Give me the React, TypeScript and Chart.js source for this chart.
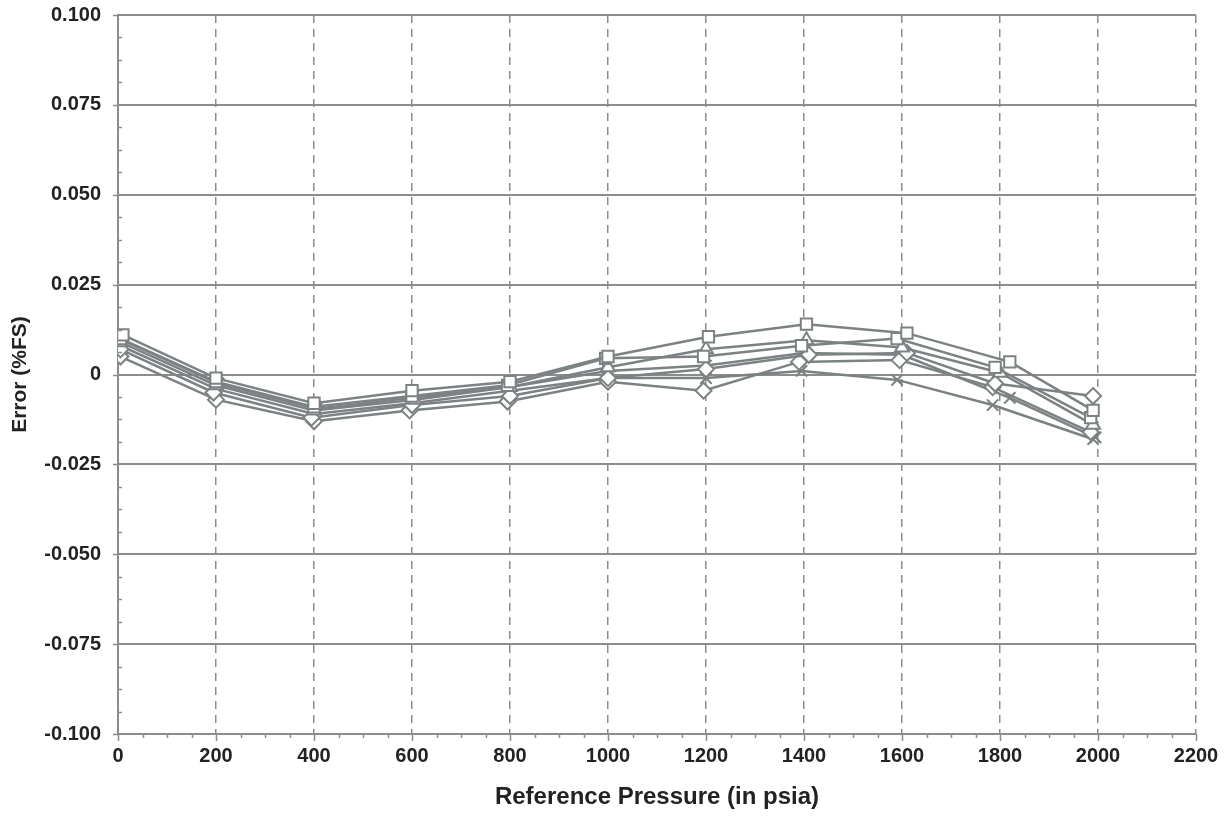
import React, { useEffect, useRef } from "react";
import { Chart, registerables } from "chart.js";

Chart.register(...registerables);

const xTicks = [0, 200, 400, 600, 800, 1000, 1200, 1400, 1600, 1800, 2000, 2200];
const yTickValues = [-0.1, -0.075, -0.05, -0.025, 0, 0.025, 0.05, 0.075, 0.1];

const s1X = [10, 200, 400, 600, 800, 1000, 1205, 1405, 1610, 1820, 1990];
const s1Y = [0.011, -0.001, -0.008, -0.0045, -0.002, 0.005, 0.0105, 0.014, 0.0115, 0.0035, -0.01];
const s2X = [5, 200, 400, 600, 795, 995, 1195, 1395, 1590, 1790, 1985];
const s2Y = [0.01, -0.002, -0.009, -0.006, -0.003, 0.0045, 0.005, 0.008, 0.01, 0.002, -0.012];
const s3X = [5, 200, 400, 605, 800, 1000, 1200, 1405, 1600, 1800, 1990];
const s3Y = [0.009, -0.003, -0.01, -0.007, -0.0035, 0.002, 0.007, 0.0095, 0.0075, 0.0005, -0.014];
const s4X = [5, 195, 395, 600, 800, 1000, 1200, 1410, 1610, 1790, 1990];
const s4Y = [0.007, -0.005, -0.012, -0.0085, -0.006, -0.001, 0.0015, 0.0055, 0.006, -0.0025, -0.006];
const s5X = [5, 200, 400, 595, 795, 1000, 1195, 1390, 1595, 1785, 1985];
const s5Y = [0.005, -0.007, -0.013, -0.01, -0.0075, -0.002, -0.0045, 0.0035, 0.004, -0.0035, -0.016];
const s6X = [5, 200, 400, 600, 800, 1000, 1200, 1395, 1590, 1785, 1990];
const s6Y = [0.008, -0.004, -0.011, -0.008, -0.0045, -0.001, -0.001, 0.001, -0.0015, -0.0085, -0.018];
const s7X = [10, 205, 405, 600, 800, 1000, 1200, 1400, 1600, 1820, 1995];
const s7Y = [0.0095, -0.0025, -0.0095, -0.0065, -0.0035, 0.001, 0.0025, 0.006, 0.0055, -0.0065, -0.0175];

const seriesDefs = [
  { xs: s1X, ys: s1Y, style: "rect" },
  { xs: s2X, ys: s2Y, style: "rect" },
  { xs: s3X, ys: s3Y, style: "triangle" },
  { xs: s4X, ys: s4Y, style: "rectRot" },
  { xs: s5X, ys: s5Y, style: "rectRot" },
  { xs: s6X, ys: s6Y, style: "crossRot" },
  { xs: s7X, ys: s7Y, style: "crossRot" },
];

const GRAY = "#7c8283";
const GRID = "#8c8c8c";
const FONT = "'Liberation Sans', Arial, sans-serif";

const minorTicks = {
  id: "minorTicks",
  afterDraw(chart: any) {
    const { ctx, scales } = chart;
    const x = scales.x;
    const y = scales.y;
    ctx.save();
    ctx.strokeStyle = GRID;
    ctx.lineWidth = 1.5;
    ctx.beginPath();
    for (let v = 0; v <= 2200; v += 50) {
      const px = Math.round(x.getPixelForValue(v)) + 0.5;
      const len = v % 200 === 0 ? 7 : 4;
      ctx.moveTo(px, y.bottom);
      ctx.lineTo(px, y.bottom + len);
    }
    for (let i = 0; i <= 32; i++) {
      const v = -0.1 + i * 0.00625;
      const py = Math.round(y.getPixelForValue(v)) + 0.5;
      if (i % 4 === 0) {
        ctx.moveTo(x.left - 5, py);
        ctx.lineTo(x.left, py);
      } else {
        ctx.moveTo(x.left, py);
        ctx.lineTo(x.left + 4, py);
      }
    }
    ctx.stroke();
    ctx.restore();
  },
};

export default function App() {
  const ref = useRef<HTMLCanvasElement>(null);
  useEffect(() => {
    if (!ref.current) return;
    const chart = new Chart(ref.current, {
      type: "scatter",
      data: {
        datasets: seriesDefs.map((s, i) => ({
          label: "S" + (i + 1),
          data: s.xs.map((xv, j) => ({ x: xv, y: s.ys[j] })),
          showLine: true,
          borderColor: GRAY,
          borderWidth: 2.5,
          pointStyle: s.style as any,
          pointRadius: 8,
          pointBorderWidth: 2,
          pointBackgroundColor: "#ffffff",
          pointBorderColor: GRAY,
        })),
      },
      plugins: [minorTicks],
      options: {
        responsive: false,
        animation: false,
        layout: { padding: { top: 15, right: 29, left: 0, bottom: 0 } },
        plugins: { legend: { display: false }, tooltip: { enabled: false } },
        scales: {
          x: {
            type: "linear",
            min: 0,
            max: 2200,
            afterFit: (s: any) => {
              s.height = 106;
              s.paddingLeft = 0;
              s.paddingRight = 0;
            },
            afterBuildTicks: (s: any) => { s.ticks = xTicks.map((v) => ({ value: v })); },
            ticks: {
              color: "#222",
              font: { family: FONT, size: 20, weight: "bold" },
              padding: 10,
              maxRotation: 0,
              autoSkip: false,
              callback: (v: any) => String(Math.round(Number(v))),
            },
            grid: { color: GRID, lineWidth: 1.5, drawTicks: false },
            border: { display: true, color: GRID, width: 2, dash: [8, 6] },
            title: {
              display: true,
              text: "Reference Pressure (in psia)",
              color: "#222",
              font: { family: FONT, size: 24, weight: "bold" },
              padding: { top: 0, bottom: 28 },
            },
          },
          y: {
            type: "linear",
            min: -0.1,
            max: 0.1,
            afterFit: (s: any) => {
              s.width = 118;
              s.paddingTop = 0;
              s.paddingBottom = 0;
            },
            afterBuildTicks: (s: any) => { s.ticks = yTickValues.map((v) => ({ value: v })); },
            ticks: {
              color: "#222",
              font: { family: FONT, size: 20, weight: "bold" },
              padding: 17,
              callback: (v: any) => (Math.abs(Number(v)) < 1e-9 ? "0" : Number(v).toFixed(3)),
            },
            grid: { color: GRID, lineWidth: 2, drawTicks: false },
            border: { display: true, color: GRID, width: 2 },
            title: {
              display: true,
              text: "Error (%FS)",
              color: "#222",
              font: { family: FONT, size: 21, weight: "bold" },
              padding: { top: 8, bottom: 0 },
            },
          },
        },
      },
    });
    return () => chart.destroy();
  }, []);
  return (
    <div style={{ position: "fixed", left: 0, top: 0, width: 1225, height: 840, background: "#fff" }}>
      <canvas ref={ref} width={1225} height={840} style={{ display: "block" }} />
    </div>
  );
}
